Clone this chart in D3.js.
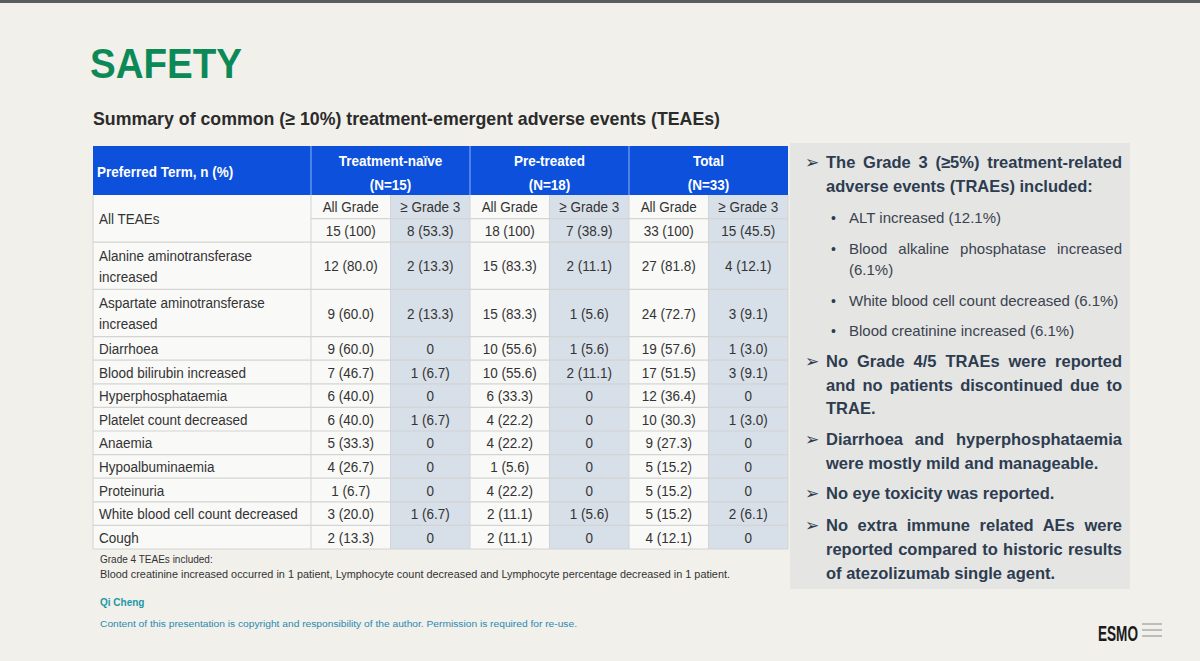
<!DOCTYPE html>
<html>
<head>
<meta charset="utf-8">
<script src="https://cdn.jsdelivr.net/npm/d3@7"></script>
<style>
  body { margin: 0; background: #f1f0eb; }
  svg { display: block; }
  text { font-family: "Liberation Sans", Arial, sans-serif; }
</style>
</head>
<body>
<script>
// table data
var groups = ["Treatment-naïve", "Pre-treated", "Total"];
var groupN = ["(N=15)", "(N=18)", "(N=33)"];
var subHeads = ["All Grade", "≥ Grade 3", "All Grade", "≥ Grade 3", "All Grade", "≥ Grade 3"];
var allTeaes = ["15 (100)", "8 (53.3)", "18 (100)", "7 (38.9)", "33 (100)", "15 (45.5)"];

var terms = ["Alanine aminotransferase\nincreased", "Aspartate aminotransferase\nincreased", "Diarrhoea",
  "Blood bilirubin increased", "Hyperphosphataemia", "Platelet count decreased", "Anaemia",
  "Hypoalbuminaemia", "Proteinuria", "White blood cell count decreased", "Cough"];
var naiveAll = ["12 (80.0)", "9 (60.0)", "9 (60.0)", "7 (46.7)", "6 (40.0)", "6 (40.0)", "5 (33.3)", "4 (26.7)", "1 (6.7)", "3 (20.0)", "2 (13.3)"];
var naiveG3  = ["2 (13.3)", "2 (13.3)", "0", "1 (6.7)", "0", "1 (6.7)", "0", "0", "0", "1 (6.7)", "0"];
var preAll   = ["15 (83.3)", "15 (83.3)", "10 (55.6)", "10 (55.6)", "6 (33.3)", "4 (22.2)", "4 (22.2)", "1 (5.6)", "4 (22.2)", "2 (11.1)", "2 (11.1)"];
var preG3    = ["2 (11.1)", "1 (5.6)", "1 (5.6)", "2 (11.1)", "0", "0", "0", "0", "0", "1 (5.6)", "0"];
var totAll   = ["27 (81.8)", "24 (72.7)", "19 (57.6)", "17 (51.5)", "12 (36.4)", "10 (30.3)", "9 (27.3)", "5 (15.2)", "5 (15.2)", "5 (15.2)", "4 (12.1)"];
var totG3    = ["4 (12.1)", "3 (9.1)", "1 (3.0)", "3 (9.1)", "0", "1 (3.0)", "0", "0", "0", "2 (6.1)", "0"];

var footNotes = ["Grade 4 TEAEs included:",
  "Blood creatinine increased occurred in 1 patient, Lymphocyte count decreased and Lymphocyte percentage decreased in 1 patient."];

// right-hand notes: [type, text, justified]
var notes = [
  ["head", "The Grade 3 (≥5%) treatment-related", true],
  ["cont", "adverse events (TRAEs) included:", false],
  ["bullet", "ALT increased (12.1%)", false],
  ["bullet", "Blood alkaline phosphatase increased", true],
  ["cont2", "(6.1%)", false],
  ["bullet", "White blood cell count decreased (6.1%)", false],
  ["bullet", "Blood creatinine increased (6.1%)", false],
  ["head", "No Grade 4/5 TRAEs were reported", true],
  ["cont", "and no patients discontinued due to", true],
  ["cont", "TRAE.", false],
  ["head", "Diarrhoea and hyperphosphataemia", true],
  ["cont", "were mostly mild and manageable.", false],
  ["head", "No eye toxicity was reported.", false],
  ["head", "No extra immune related AEs were", true],
  ["cont", "reported compared to historic results", true],
  ["cont", "of atezolizumab single agent.", false]
];
var noteY = [168, 192, 223, 254, 275, 306, 336, 367, 391, 414, 445, 469, 499, 531, 555, 579];

var W = 1200, H = 661;
var svg = d3.select("body").append("svg").attr("width", W).attr("height", H);

// squeeze a text horizontally, like the narrow face used on the slide
function condense(sel, k) {
  sel.each(function() {
    var w = this.getComputedTextLength();
    d3.select(this).attr("textLength", w * k).attr("lengthAdjust", "spacingAndGlyphs");
  });
  return sel;
}

svg.append("rect").attr("width", W).attr("height", H).attr("fill", "#f1f0eb");
svg.append("rect").attr("width", W).attr("height", 3).attr("fill", "#5a5d60");

// title
svg.append("text").attr("x", 90).attr("y", 78)
  .attr("font-size", 43).attr("font-weight", "bold").attr("fill", "#0b8a58")
  .attr("textLength", 152).attr("lengthAdjust", "spacingAndGlyphs")
  .text("SAFETY");
svg.append("text").attr("x", 93).attr("y", 125)
  .attr("font-size", 19).attr("font-weight", "bold").attr("fill", "#2b2b2b")
  .attr("textLength", 627).attr("lengthAdjust", "spacingAndGlyphs")
  .text("Summary of common (≥ 10%) treatment-emergent adverse events (TEAEs)");

// table geometry via scales
var tLeft = 93, tDiv = 311, tRight = 788, hTop = 146, hBot = 195, tBot = 549;
var x = d3.scaleBand().domain(d3.range(6)).range([tDiv, tRight]);
var rowUnits = [2, 2, 2, 1, 1, 1, 1, 1, 1, 1, 1, 1];
var cum = [0];
rowUnits.forEach(function(u, i) { cum.push(cum[i] + u); });
var y = d3.scaleLinear().domain([0, d3.sum(rowUnits)]).range([hBot, tBot]);

var table = svg.append("g");
var squeeze = 0.87;

// body backgrounds
table.append("rect").attr("x", tLeft).attr("y", hBot).attr("width", tRight - tLeft).attr("height", tBot - hBot)
  .attr("fill", "#f9f9f7");
table.selectAll("rect.shade").data([1, 3, 5]).enter().append("rect")
  .attr("class", "shade")
  .attr("x", function(d) { return x(d); })
  .attr("y", hBot)
  .attr("width", x.bandwidth())
  .attr("height", tBot - hBot)
  .attr("fill", "#d7dfe8");

// header
table.append("rect").attr("x", tLeft).attr("y", hTop).attr("width", tRight - tLeft).attr("height", hBot - hTop)
  .attr("fill", "#0c50dc");
table.selectAll("line.hsep").data([0, 2, 4]).enter().append("line")
  .attr("x1", function(d) { return x(d); }).attr("x2", function(d) { return x(d); })
  .attr("y1", hTop).attr("y2", hBot)
  .attr("stroke", "#7aa3ee").attr("stroke-width", 1.2);
condense(table.append("text").attr("x", 97).attr("y", 177)
  .attr("font-size", 15.5).attr("font-weight", "bold").attr("fill", "#fff")
  .text("Preferred Term, n (%)"), squeeze);
groups.forEach(function(g, i) {
  var cx = x(i * 2) + x.bandwidth();
  condense(table.append("text").attr("x", cx).attr("y", 166).attr("text-anchor", "middle")
    .attr("font-size", 15.5).attr("font-weight", "bold").attr("fill", "#fff").text(g), squeeze);
  condense(table.append("text").attr("x", cx).attr("y", 190).attr("text-anchor", "middle")
    .attr("font-size", 15.5).attr("font-weight", "bold").attr("fill", "#fff").text(groupN[i]), squeeze);
});

// grid lines
var gridColor = "#d4d4d2";
table.selectAll("line.rowsep").data(cum.slice(1)).enter().append("line")
  .attr("x1", tLeft).attr("x2", tRight)
  .attr("y1", function(d) { return y(d); }).attr("y2", function(d) { return y(d); })
  .attr("stroke", gridColor).attr("stroke-width", 1.2);
table.append("line").attr("x1", tDiv).attr("x2", tRight).attr("y1", y(1)).attr("y2", y(1))
  .attr("stroke", gridColor).attr("stroke-width", 1.2);
table.selectAll("line.colsep").data(d3.range(7)).enter().append("line")
  .attr("x1", function(d) { return x(d) || tRight; }).attr("x2", function(d) { return x(d) || tRight; })
  .attr("y1", hBot).attr("y2", tBot)
  .attr("stroke", gridColor).attr("stroke-width", 1);
table.append("line").attr("x1", tLeft).attr("x2", tLeft).attr("y1", hBot).attr("y2", tBot)
  .attr("stroke", gridColor).attr("stroke-width", 1);

var cellFont = 15.5, cellColor = "#333";
function cell(tx, ty, s, anchor) {
  return condense(table.append("text").attr("x", tx).attr("y", ty)
    .attr("text-anchor", anchor || "middle").attr("font-size", cellFont).attr("fill", cellColor).text(s), squeeze);
}

// All TEAEs row
cell(99, y(1) + 5.5, "All TEAEs", "start");
subHeads.forEach(function(s, i) { cell(x(i) + x.bandwidth() / 2, y(0.5) + 5.5, s); });
allTeaes.forEach(function(s, i) { cell(x(i) + x.bandwidth() / 2, y(1.5) + 5.5, s); });

// term rows
var cols = [naiveAll, naiveG3, preAll, preG3, totAll, totG3];
terms.forEach(function(t, r) {
  var top = cum[r + 1], mid = y(top + rowUnits[r + 1] / 2);
  var lines = t.split("\n");
  lines.forEach(function(l, k) {
    cell(99, mid + 5.5 + (k - (lines.length - 1) / 2) * 21, l, "start");
  });
  cols.forEach(function(c, i) { cell(x(i) + x.bandwidth() / 2, mid + 5.5, c[r]); });
});

// footnotes
svg.append("text").attr("x", 100).attr("y", 563).attr("font-size", 10).attr("fill", "#333").text(footNotes[0]);
svg.append("text").attr("x", 100).attr("y", 578).attr("font-size", 10).attr("fill", "#333")
  .attr("textLength", 630).attr("lengthAdjust", "spacingAndGlyphs").text(footNotes[1]);
svg.append("text").attr("x", 100).attr("y", 606).attr("font-size", 10).attr("font-weight", "bold")
  .attr("fill", "#1f97a6").text("Qi Cheng");
svg.append("text").attr("x", 100).attr("y", 627).attr("font-size", 9.2).attr("fill", "#2a8ab0")
  .attr("textLength", 477).attr("lengthAdjust", "spacingAndGlyphs")
  .text("Content of this presentation is copyright and responsibility of the author. Permission is required for re-use.");

// right panel
var panel = svg.append("g");
panel.append("rect").attr("x", 790).attr("y", 143).attr("width", 340).attr("height", 446).attr("fill", "#e5e5e3");
var noteColor = "#2d3c50", jRight = 1122;
notes.forEach(function(n, i) {
  var type = n[0], tx, t;
  if (type === "head") {
    panel.append("text").attr("x", 805).attr("y", noteY[i]).attr("font-size", 17)
      .attr("fill", noteColor).text("➢");
  }
  if (type === "bullet") {
    panel.append("text").attr("x", 831).attr("y", noteY[i]).attr("font-size", 14).attr("fill", noteColor).text("•");
  }
  var bold = (type === "head" || type === "cont");
  tx = bold ? 826 : 849;
  t = panel.append("text").attr("x", tx).attr("y", noteY[i])
    .attr("font-size", bold ? 16.5 : 15).attr("font-weight", bold ? "bold" : "normal")
    .attr("fill", bold ? noteColor : "#3a4350").text(n[1]);
  var natural = t.node().getComputedTextLength();
  if (natural > jRight - tx) {
    t.attr("textLength", jRight - tx).attr("lengthAdjust", "spacingAndGlyphs");
  } else if (n[2]) {
    var spaces = n[1].split(" ").length - 1;
    if (spaces > 0) t.attr("word-spacing", (jRight - tx - natural) / spaces);
  }
});

// ESMO logo
var logo = svg.append("g");
logo.append("text").attr("x", 1098).attr("y", 641).attr("font-size", 22).attr("font-weight", "bold")
  .attr("fill", "#1b1b1b").attr("textLength", 40).attr("lengthAdjust", "spacingAndGlyphs").text("ESMO");
[624, 630, 636].forEach(function(ly) {
  logo.append("line").attr("x1", 1142).attr("x2", 1162).attr("y1", ly).attr("y2", ly)
    .attr("stroke", "#9a9a9a").attr("stroke-width", 1.2);
});
</script>
</body>
</html>
